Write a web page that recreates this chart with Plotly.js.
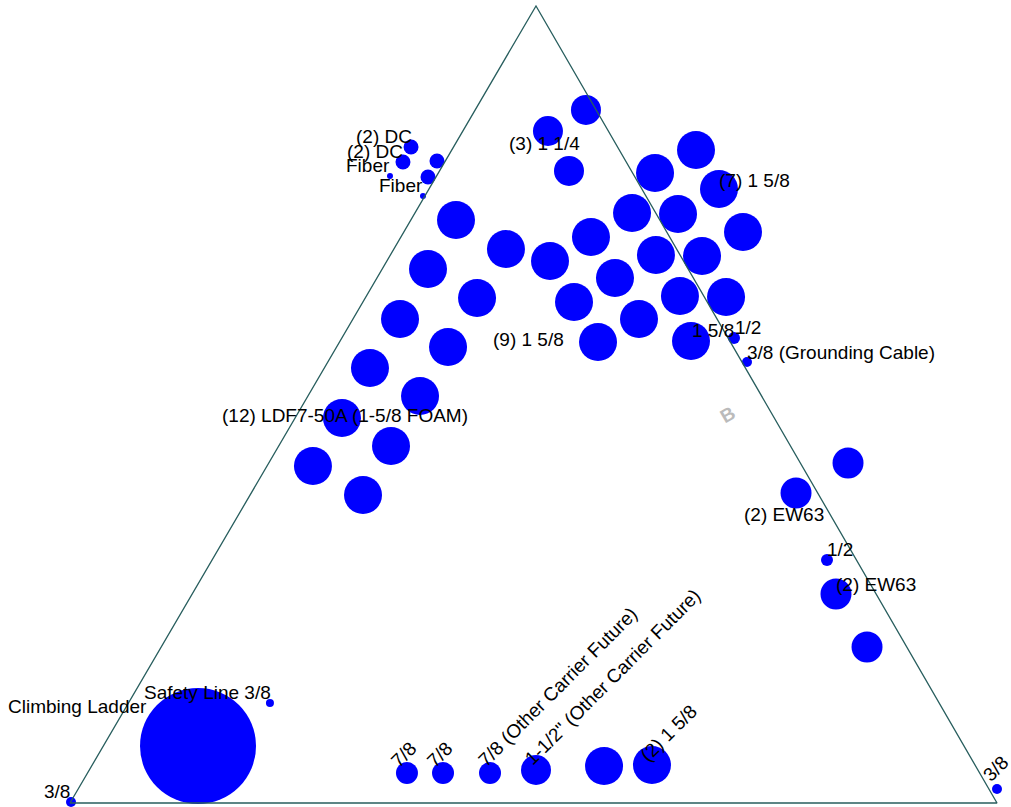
<!DOCTYPE html>
<html>
<head>
<meta charset="utf-8">
<script src="https://cdn.plot.ly/plotly-3.0.1.min.js"></script>
<style>html,body{margin:0;padding:0;background:#fff;}#chart{width:1011px;height:807px;}</style>
</head>
<body>
<div id="chart"></div>
<script>
// Triangle frame (chart units: base 0..100)
const frameX = [0, 100, 50.27, 0];
const frameY = [0, 0, 85.98, 0];

// Cable bubbles
const cableX = [55.66, 51.56, 53.83, 67.53, 63.11, 70.01, 60.63, 65.59, 72.60, 41.64, 47.03, 56.20, 51.78, 63.21, 68.18, 38.62,
  58.79, 43.91, 54.37, 65.80, 70.77, 35.60, 61.38, 40.78, 56.96, 66.99, 32.36, 37.76, 29.34, 34.63, 26.21, 31.61,
  36.79, 35.92, 39.59, 38.62, 34.52, 38.08, 71.63, 73.03, 83.93, 78.32, 81.66, 82.63, 85.98, 21.57, 13.81, 0.11, 100.0,
  36.35, 40.24, 45.31, 50.27, 57.61, 62.78];
const cableY = [74.76, 72.49, 68.18, 70.44, 67.96, 66.24, 63.65, 63.54, 61.60, 62.89, 59.76, 61.06, 58.47, 59.12, 59.01, 57.61,
  56.63, 54.48, 54.05, 54.69, 54.58, 52.21, 52.21, 49.19, 49.73, 49.84, 46.93, 43.91, 41.53, 38.51, 36.35, 33.23,
  70.77, 69.15, 69.26, 67.53, 67.64, 65.48, 50.16, 47.57, 36.68, 33.44, 26.21, 22.55, 16.83, 10.79, 6.15, 0.11, 1.51,
  3.24, 3.24, 3.24, 3.56, 3.99, 4.10];
const cableSize = [30, 30, 30, 38, 38, 38, 38, 38, 38, 38, 38, 38, 38, 38, 38, 38,
  38, 38, 38, 38, 38, 38, 38, 38, 38, 38, 38, 38, 38, 38, 38, 38,
  15, 15, 15, 15, 6, 6, 12, 10, 31, 31, 12, 31, 31, 8, 116, 10, 10,
  22, 22, 22, 30, 38, 38];

// Labels
const labelText = ["(2) DC", "(2) DC", "Fiber", "Fiber", "(3) 1 1/4", "(7) 1 5/8", "(9) 1 5/8", "1 5/8", "1/2",
  "3/8 (Grounding Cable)", "(12) LDF7-50A (1-5/8 FOAM)", "(2) EW63", "1/2", "(2) EW63", "Safety Line 3/8",
  "Climbing Ladder", "3/8", "3/8", "7/8", "7/8", "7/8 (Other Carrier Future)", "1-1/2\" (Other Carrier Future)", "(2) 1 5/8"];
const labelX = [33.87, 32.90, 32.15, 35.71, 51.24, 73.89, 49.41, 69.36, 73.14, 83.17, 29.67, 77.02, 83.06, 86.95, 14.78,
  0.86, -1.40, 99.89, 36.03, 39.91, 52.54, 58.47, 64.51];
const labelY = [71.95, 70.23, 68.72, 66.56, 71.09, 67.10, 50.05, 51.02, 51.24, 48.65, 41.75, 31.07, 27.40, 23.52, 11.97,
  10.36, 1.29, 3.67, 5.18, 5.18, 12.51, 13.59, 7.55];
const labelAngle = [0, 0, 0, 0, 0, 0, 0, 0, 0, 0, 0, 0, 0, 0, 0, 0, 0, -45, -45, -45, -45, -45, -45];

// Axis watermark
const axisLabel = {text: "B", x: 70.98, y: 41.86, angle: -30};

const font = "Liberation Sans, Arial, sans-serif";

const annotations = labelText.map((t, i) => ({
  text: t, x: labelX[i], y: labelY[i], xref: "x", yref: "y",
  showarrow: false, xanchor: "center", yanchor: "middle", textangle: labelAngle[i],
  font: {family: font, size: 19, color: "#000"}
}));
annotations.unshift({
  text: "<b>" + axisLabel.text + "</b>", x: axisLabel.x, y: axisLabel.y, xref: "x", yref: "y",
  showarrow: false, textangle: axisLabel.angle,
  font: {family: font, size: 19, color: "#bbbbbb"}
});

const traces = [
  {type: "scatter", mode: "markers", x: cableX, y: cableY,
   marker: {color: "#0000ff", size: cableSize, opacity: 1, line: {width: 0}},
   hoverinfo: "skip", showlegend: false},
  {type: "scatter", mode: "lines", x: frameX, y: frameY,
   line: {color: "#285e5e", width: 1.3}, hoverinfo: "skip", showlegend: false}
];

const layout = {
  width: 1011, height: 807,
  margin: {l: 0, r: 0, t: 0, b: 0},
  paper_bgcolor: "#ffffff", plot_bgcolor: "#ffffff",
  xaxis: {visible: false, range: [-7.55, 101.51], fixedrange: true},
  yaxis: {visible: false, range: [-0.43, 86.62], fixedrange: true},
  annotations: annotations,
  showlegend: false
};

Plotly.newPlot("chart", traces, layout, {displayModeBar: false, staticPlot: true});
</script>
</body>
</html>
